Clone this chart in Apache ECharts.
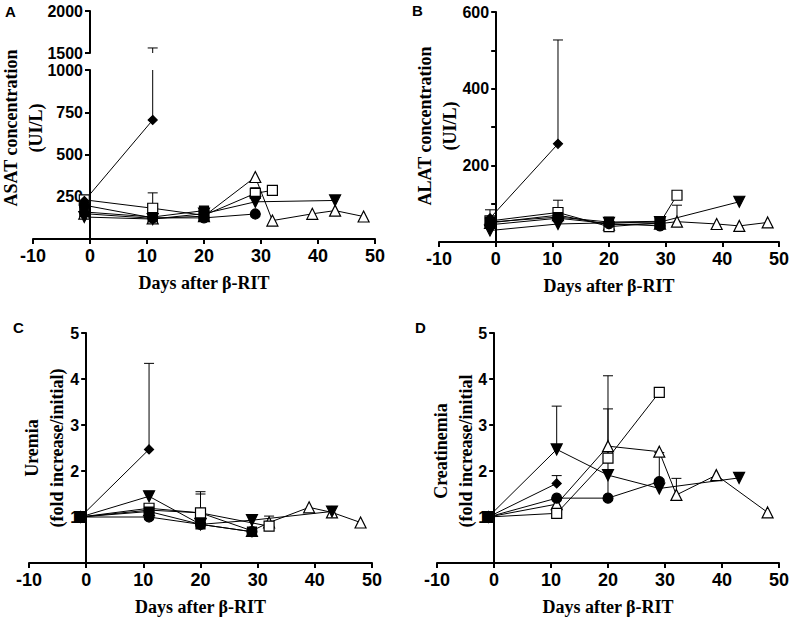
<!DOCTYPE html>
<html>
<head>
<meta charset="utf-8">
<script src="https://cdn.jsdelivr.net/npm/echarts@6/dist/echarts.min.js"></script>
<style>
html,body{margin:0;padding:0;background:#fff;}
#chart{width:792px;height:619px;}
</style>
</head>
<body>
<div id="chart"></div>
<script>
// ---------- tick labels / axes ----------
const xTickLabels = [-10, 0, 10, 20, 30, 40, 50];
const xTitle = 'Days after β-RIT';
const panelLetters = ['A', 'B', 'C', 'D'];
const yTitles = [
  'ASAT concentration\n(UI/L)',
  'ALAT concentration\n(UI/L)',
  'Uremia\n(fold increase/initial)',
  'Creatinemia\n(fold increase/initial'
];

// ---------- Panel A: ASAT (UI/L) ----------
const asatDiamond   = [[-1, 225], [11, 704]];
const asatOpenSq    = [[-1, 232], [11, 182], [20, 140], [29, 270], [32, 288]];
const asatCircle    = [[-1, 200], [11, 125], [20, 125], [29, 148]];
const asatInvTri    = [[-1, 130], [11, 118], [20, 150], [29, 220], [43, 228]];
const asatOpenTri   = [[-1, 150], [11, 122], [20, 135], [29, 367], [32, 109], [39, 149], [43, 168], [48, 133]];
const asatSquare    = [[-1, 160], [11, 130], [20, 168]];
const asatErr       = [[-1, 232, 252], [11, 704, 1560], [11, 182, 273], [29, 270, 303], [20, 168, 180]];

// ---------- Panel B: ALAT (UI/L) ----------
const alatDiamond   = [[-1, 62], [11, 256]];
const alatOpenSq    = [[-1, 55], [11, 77], [20, 40], [29, 50], [32, 122]];
const alatCircle    = [[-1, 45], [11, 62], [20, 48], [29, 42]];
const alatInvTri    = [[-1, 30], [11, 47], [20, 50], [29, 52], [43, 105]];
const alatOpenTri   = [[-1, 50], [11, 70], [20, 45], [29, 48], [32, 53], [39, 47], [43, 42], [48, 51]];
const alatSquare    = [[-1, 52], [11, 65], [20, 52], [29, 54]];
const alatErr       = [[-1, 55, 84], [11, 256, 527], [11, 77, 109], [20, 52, 65], [32, 53, 96]];

// ---------- Panel C: Uremia (fold increase/initial) ----------
const ureDiamond    = [[-1, 1], [11, 2.47]];
const ureOpenSq     = [[-1, 1], [11, 1.19], [20, 1.09], [32, 0.80]];
const ureCircle     = [[-1, 1], [11, 1.00], [20, 0.84], [29, 0.68]];
const ureInvTri     = [[-1, 1], [11, 1.45], [20, 0.84], [29, 0.93], [43, 1.12]];
const ureOpenTri    = [[-1, 1], [11, 1.15], [20, 1.09], [29, 0.70], [32, 0.88], [39, 1.21], [43, 1.10], [48, 0.88]];
const ureSquare     = [[-1, 1], [11, 1.12], [20, 0.84], [29, 0.68]];
const ureErr        = [[11, 2.47, 4.34], [11, 1.45, 1.53], [20, 1.09, 1.55], [20, 1.09, 1.50], [32, 0.88, 1.02]];

// ---------- Panel D: Creatinemia (fold increase/initial) ----------
const creDiamond    = [[-1, 1], [11, 1.73]];
const creOpenSq     = [[-1, 1], [11, 1.08], [20, 2.28], [29, 3.71]];
const creCircle     = [[-1, 1], [11, 1.41], [20, 1.41], [29, 1.77]];
const creInvTri     = [[-1, 1], [11, 2.47], [20, 1.91], [29, 1.62], [43, 1.85]];
const creOpenTri    = [[-1, 1], [11, 1.28], [20, 2.54], [29, 2.42], [32, 1.48], [39, 1.91], [48, 1.10]];
const creSquare     = [[-1, 1]];
const creErr        = [[11, 2.47, 3.41], [11, 1.73, 1.90], [20, 1.41, 4.07], [20, 2.28, 3.35], [29, 1.77, 2.40], [32, 1.48, 1.84]];

// ---------- styling ----------
const SANS = 'Liberation Sans, Arial, sans-serif';
const SERIF = 'Liberation Serif, Times New Roman, serif';
const markers = {
  diamond: {symbol: 'diamond', size: 9,  rotate: 0,   fill: '#000'},
  openSq:  {symbol: 'rect',    size: 10, rotate: 0,   fill: '#fff'},
  circle:  {symbol: 'circle',  size: 10, rotate: 0,   fill: '#000'},
  invTri:  {symbol: 'triangle',size: 11, rotate: 180, fill: '#000'},
  openTri: {symbol: 'triangle',size: 11, rotate: 0,   fill: '#fff'},
  square:  {symbol: 'rect',    size: 9,  rotate: 0,   fill: '#000'}
};

function lineSeries(data, m, xi, yi) {
  return {
    type: 'line', xAxisIndex: xi, yAxisIndex: yi, data: data,
    symbol: m.symbol, symbolSize: m.size, symbolRotate: m.rotate, showSymbol: true,
    lineStyle: {color: '#000', width: 1},
    itemStyle: {color: m.fill, borderColor: '#000', borderWidth: 1.2},
    emphasis: {disabled: true}, z: 3, clip: false
  };
}
function errSeries(data, xi, yi, clip) {
  return {
    type: 'custom', xAxisIndex: xi, yAxisIndex: yi, data: data, clip: clip, z: 2,
    encode: {x: 0, y: [1, 2]},
    renderItem: function (params, api) {
      const p0 = api.coord([api.value(0), api.value(1)]);
      const p1 = api.coord([api.value(0), api.value(2)]);
      return {type: 'group', children: [
        {type: 'line', shape: {x1: p0[0], y1: p0[1], x2: p1[0], y2: p1[1]}, style: {stroke: '#000', lineWidth: 1}},
        {type: 'line', shape: {x1: p1[0] - 5, y1: p1[1], x2: p1[0] + 5, y2: p1[1]}, style: {stroke: '#000', lineWidth: 1}}
      ]};
    }
  };
}
// sets order: diamond, openSq, circle, invTri, openTri, square
function panelSeries(sets, err, xi, yi) {
  const out = [errSeries(err, xi, yi, true)];
  out.push(lineSeries(sets[4], markers.openTri, xi, yi));
  out.push(lineSeries(sets[1], markers.openSq, xi, yi));
  out.push(lineSeries(sets[2], markers.circle, xi, yi));
  out.push(lineSeries(sets[3], markers.invTri, xi, yi));
  out.push(lineSeries(sets[0], markers.diamond, xi, yi));
  out.push(lineSeries(sets[5], markers.square, xi, yi));
  return out;
}

const gridDefs = [
  {left: 33, width: 342, top: 70, height: 169},   // A lower
  {left: 33, width: 342, top: 11, height: 42},    // A upper (broken axis)
  {left: 439, width: 343, top: 12, height: 230},  // B
  {left: 29, width: 343, top: 333, height: 230},  // C
  {left: 437, width: 343, top: 333, height: 230}  // D
];
const xMin = xTickLabels[0], xMax = xTickLabels[xTickLabels.length - 1];

function xAxisDef(gi, show) {
  return {
    type: 'value', gridIndex: gi, min: xMin, max: xMax, interval: 10,
    show: show,
    name: xTitle, nameLocation: 'middle', nameGap: 35,
    nameTextStyle: {fontFamily: SERIF, fontWeight: 'bold', fontSize: 18, color: '#000'},
    axisLine: {show: true, onZero: false, lineStyle: {color: '#000', width: 2}},
    axisTick: {show: true, length: 5, lineStyle: {color: '#000', width: 2}},
    axisLabel: {show: true, margin: 8, fontFamily: SANS, fontWeight: 'bold', fontSize: 18, color: '#000'},
    splitLine: {show: false}
  };
}
function yAxisDef(gi, min, max, interval, labelFn) {
  // place the y axis at day 0 via a (negative) offset from the grid's left edge
  const off = -gridDefs[gi].width * (0 - xMin) / (xMax - xMin);
  return {
    type: 'value', gridIndex: gi, min: min, max: max, interval: interval,
    position: 'left', offset: off,
    axisLine: {show: true, onZero: false, lineStyle: {color: '#000', width: 2}},
    axisTick: {show: true, length: 5, lineStyle: {color: '#000', width: 2}},
    axisLabel: {show: true, margin: 7, fontFamily: SANS, fontWeight: 'bold', fontSize: 16, color: '#000', formatter: labelFn},
    splitLine: {show: false}
  };
}

const chart = echarts.init(document.getElementById('chart'), null, {renderer: 'svg'});
const titleStyle = {font: 'bold 18px ' + SERIF, fill: '#000', align: 'center', verticalAlign: 'middle', textAlign: 'center', textVerticalAlign: 'middle', lineHeight: 25};
const option = {
  animation: false,
  backgroundColor: '#fff',
  grid: gridDefs,
  xAxis: [xAxisDef(0, true), xAxisDef(1, false), xAxisDef(2, true), xAxisDef(3, true), xAxisDef(4, true)],
  yAxis: [
    yAxisDef(0, 0, 1000, 250, v => v === 0 ? '' : String(v)),
    yAxisDef(1, 1500, 2000, 500, v => String(v)),
    yAxisDef(2, 0, 600, 100, v => (v !== 0 && v % 200 === 0) ? String(v) : ''),
    yAxisDef(3, 0, 5, 1, v => v === 0 ? '' : String(v)),
    yAxisDef(4, 0, 5, 1, v => v === 0 ? '' : String(v))
  ],
  graphic: [
    {type: 'text', x: 5, y: 4, style: {text: panelLetters[0], font: 'bold 15px ' + SANS, fill: '#000'}},
    {type: 'text', x: 412, y: 3, style: {text: panelLetters[1], font: 'bold 15px ' + SANS, fill: '#000'}},
    {type: 'text', x: 13, y: 320, style: {text: panelLetters[2], font: 'bold 15px ' + SANS, fill: '#000'}},
    {type: 'text', x: 415, y: 320, style: {text: panelLetters[3], font: 'bold 15px ' + SANS, fill: '#000'}},
    {type: 'text', x: 23, y: 128, rotation: Math.PI / 2, style: Object.assign({text: yTitles[0]}, titleStyle)},
    {type: 'text', x: 437, y: 126, rotation: Math.PI / 2, style: Object.assign({text: yTitles[1]}, titleStyle)},
    {type: 'text', x: 44, y: 448, rotation: Math.PI / 2, style: Object.assign({text: yTitles[2]}, titleStyle)},
    {type: 'text', x: 453, y: 451, rotation: Math.PI / 2, style: Object.assign({text: yTitles[3]}, titleStyle)}
  ],
  series: [].concat(
    panelSeries([asatDiamond, asatOpenSq, asatCircle, asatInvTri, asatOpenTri, asatSquare], asatErr, 0, 0),
    [errSeries(asatErr, 1, 1, true)],
    panelSeries([alatDiamond, alatOpenSq, alatCircle, alatInvTri, alatOpenTri, alatSquare], alatErr, 2, 2),
    panelSeries([ureDiamond, ureOpenSq, ureCircle, ureInvTri, ureOpenTri, ureSquare], ureErr, 3, 3),
    panelSeries([creDiamond, creOpenSq, creCircle, creInvTri, creOpenTri, creSquare], creErr, 4, 4)
  )
};
chart.setOption(option);
</script>
</body>
</html>
